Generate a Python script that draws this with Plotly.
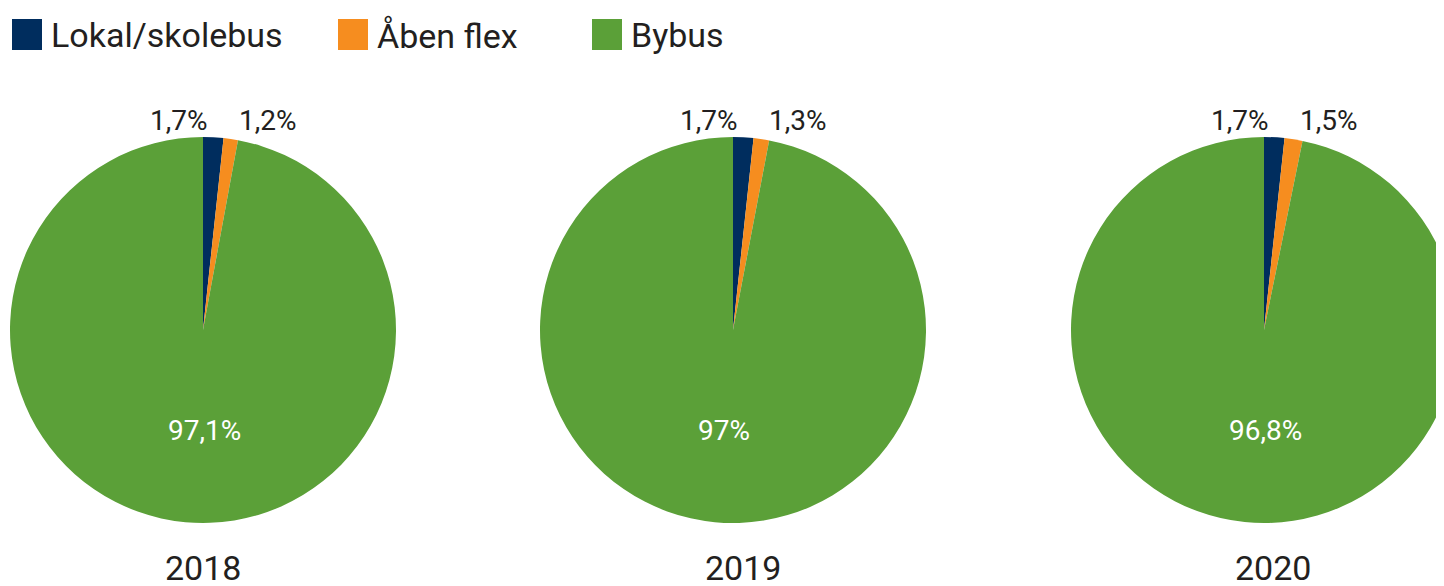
import plotly.graph_objects as go

categories = ["Lokal/skolebus", "Åben flex", "Bybus"]
years = ["2018", "2019", "2020"]
values_2018 = [1.7, 1.2, 97.1]
values_2019 = [1.7, 1.3, 97.0]
values_2020 = [1.7, 1.5, 96.8]
all_values = [values_2018, values_2019, values_2020]

colors = ["#002D5E", "#F68D1F", "#5BA038"]
TXT = "#231F20"
FONT = "Roboto, Liberation Sans, sans-serif"

# page body has an 8px margin; layout coordinates are shifted by it
OFF = 8
W, H = 1460, 586

centers_x = [203, 733, 1264]   # reference pixel positions
year_x = [203, 743, 1273]
cy = 330
R = 193

def fmt(v):
    return f"{v:g}".replace(".", ",") + "%"

def px(x):
    return (x - OFF) / W

def py(y):
    return (H - (y - OFF)) / H

fig = go.Figure()
for i, (yr, vals) in enumerate(zip(years, all_values)):
    cx = centers_x[i]
    fig.add_trace(go.Pie(
        labels=categories,
        values=vals,
        text=[fmt(v) for v in vals],
        textinfo="none",
        sort=False,
        direction="clockwise",
        rotation=0,
        marker=dict(colors=colors, line=dict(width=0)),
        domain=dict(x=[px(cx - R), px(cx + R)], y=[py(cy + R), py(cy - R)]),
        showlegend=False,
        hoverinfo="label+text",
    ))
    # small-slice labels above the pie
    fig.add_annotation(x=px(cx + 7), y=py(121), xref="paper", yref="paper",
                       text=fmt(vals[0]), showarrow=False, xanchor="right", yanchor="middle",
                       font=dict(size=28, color=TXT, family=FONT))
    fig.add_annotation(x=px(cx + 34), y=py(121), xref="paper", yref="paper",
                       text=fmt(vals[1]), showarrow=False, xanchor="left", yanchor="middle",
                       font=dict(size=28, color=TXT, family=FONT))
    # large-slice label inside
    fig.add_annotation(x=px(cx - 37), y=py(430), xref="paper", yref="paper",
                       text=fmt(vals[2]), showarrow=False, xanchor="left", yanchor="middle",
                       font=dict(size=28, color="white", family=FONT))
    # year title
    fig.add_annotation(x=px(year_x[i]), y=py(568), xref="paper", yref="paper",
                       text=yr, showarrow=False, xanchor="center", yanchor="middle",
                       font=dict(size=34, color=TXT, family=FONT))

# legend
legend_x = [12, 338, 592]
for i, cat in enumerate(categories):
    lx = legend_x[i]
    fig.add_shape(type="rect", xref="paper", yref="paper",
                  x0=px(lx), x1=px(lx + 30), y0=py(50), y1=py(19),
                  fillcolor=colors[i], line=dict(width=0))
    fig.add_annotation(x=px(lx + 37), y=py(35), xref="paper", yref="paper",
                       text=cat, showarrow=False, xanchor="left", yanchor="middle",
                       font=dict(size=34, color=TXT, family=FONT))

fig.update_layout(
    width=W, height=H,
    margin=dict(l=0, r=0, t=0, b=0),
    paper_bgcolor="white", plot_bgcolor="white",
    separators=",.",
    font=dict(family=FONT),
)
fig.write_html("out.html")
